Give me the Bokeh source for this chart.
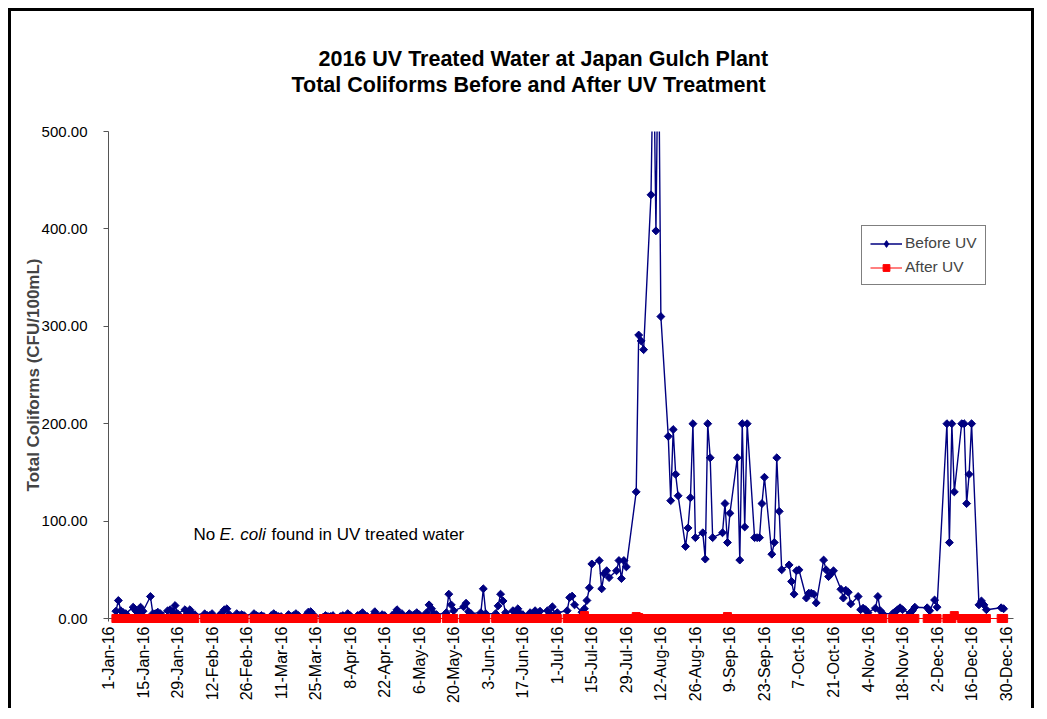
import numpy as np
import pandas as pd
from bokeh.plotting import figure
from bokeh.models import (Range1d, FixedTicker, Legend, LegendItem, Label,
                          NumeralTickFormatter, Title)
from bokeh.embed import file_html
from bokeh.resources import INLINE

FONT = "Liberation Sans"

# ---------------- data ----------------
# Monday of each sampling week (samples Mon..Fri, None = no sample)
week_starts = [
    "2016-01-04", "2016-01-11", "2016-01-18", "2016-01-25",
    "2016-02-01", "2016-02-08", "2016-02-15", "2016-02-22", "2016-02-29",
    "2016-03-07", "2016-03-14", "2016-03-21", "2016-03-28",
    "2016-04-04", "2016-04-11", "2016-04-18", "2016-04-25",
    "2016-05-02", "2016-05-09", "2016-05-16", "2016-05-23", "2016-05-30",
    "2016-06-06", "2016-06-13", "2016-06-20", "2016-06-27",
    "2016-07-04", "2016-07-11", "2016-07-18", "2016-07-25",
    "2016-08-01", "2016-08-08", "2016-08-15", "2016-08-22", "2016-08-29",
    "2016-09-05", "2016-09-12", "2016-09-19", "2016-09-26",
    "2016-10-03", "2016-10-10", "2016-10-17", "2016-10-24", "2016-10-31",
    "2016-11-07", "2016-11-14", "2016-11-21", "2016-11-28",
    "2016-12-05", "2016-12-12", "2016-12-19", "2016-12-26",
]

before_uv = [
    7.5, 18.5, 8, 6, 5,          # Jan 4
    11.6, 8, 6, 11.6, 7.5,       # Jan 11
    22.6, 5, 5, 6.5, 5,          # Jan 18
    8, 9, 7, 13.3, 5,            # Jan 25
    9, 5, 9, 5, 4,               # Feb 1
    None, 4.8, 3, 3, 5,          # Feb 8
    3, 6, 9, 10, 4,              # Feb 15
    5, 3, 4, 3, None,            # Feb 22
    5, 3, 2, 3, 2,               # Feb 29
    3, 5, 3, 2, 2,               # Mar 7
    4, 2, 3, 5, 3,               # Mar 14
    3, 6.5, 7, 4, None,          # Mar 21
    1, 3, 2, 2, 3,               # Mar 28
    2, 3, 2, 5, 3,               # Apr 4
    3, 4, 6, 3, 2,               # Apr 11
    7, 3, 2, 4, 3,               # Apr 18
    3, 5, 9, 4, 5,               # Apr 25
    5, 3, 4, 6, 4,               # May 2
    6, 14, 10, 5, 4,             # May 9
    None, 6, 25, 14, 8,          # May 16
    None, 12, 15.7, 7, 5,        # May 23
    None, 6, 30.5, 5, None,      # May 30
    5, 13, 25, 18, 6,            # Jun 6
    8, 6, 10, 5, 4,              # Jun 13
    6, 4, 8, 5, 7.5,             # Jun 20
    8, 5, 12, 4, 6,              # Jun 27
    None, 8, 21.5, 23, 14,       # Jul 4
    6.5, 10, 18.5, 31.5, 56,     # Jul 11
    59.5, 30.5, 46, 49, 42,      # Jul 18
    49, 59.5, 41, 59.5, 53,      # Jul 25
    None, 130, 291, 285, 276,    # Aug 1
    435, 600, 398, 620, 310,     # Aug 8
    187, 121, 194, 148, 126,     # Aug 15
    74, 93, 124, 200, 83,        # Aug 22
    88, 61, 200, 165, 83,        # Aug 29
    None, 88, 118, 78, 108,      # Sep 5
    165, 60, 200, 94, 200,       # Sep 12
    83, 83, 83, 118, 145,        # Sep 19
    66, 78, 165, 110, 50,        # Sep 26
    55, 38, 25, 49, 50,          # Oct 3
    21, 26, 26, 25, 16,          # Oct 10
    60, 50, 43, 46, 49,          # Oct 17
    30, 21, 29, 27, 15,          # Oct 24
    22.6, 9, 10.6, 9, 6,         # Oct 31
    10.6, 22.6, 8, 5, None,      # Nov 7
    5, 7, 9, 11, 9,              # Nov 14
    5.5, 8, 11.6, None, None,    # Nov 21
    11, 8, None, 19, 11.6,       # Nov 28
    None, 200, 78, 200, 130,     # Dec 5
    200, 200, 118, 148, 200,     # Dec 12
    14, 18, 14, 9, None,         # Dec 19
    None, None, 11, 10, None,    # Dec 26
]

after_uv = [
    0, 0, 0, 0, 0,      # Jan 4
    0, 0, 0, 0, 0,      # Jan 11
    0, 0, 0, 0, 0,      # Jan 18
    0, 0, 0, 0, 0,      # Jan 25
    0, 0, 0, 0, 0,      # Feb 1
    None, 0, 0, 0, 0,   # Feb 8
    0, 0, 0, 0, 0,      # Feb 15
    0, 0, 0, 0, None,   # Feb 22
    0, 0, 0, 0, 0,      # Feb 29
    0, 0, 0, 0, 0,      # Mar 7
    0, 0, 0, 0, 0,      # Mar 14
    0, 0, 0, 0, None,   # Mar 21
    0, 0, 0, 0, 0,      # Mar 28
    0, 0, 0, 0, 0,      # Apr 4
    0, 0, 0, 0, 0,      # Apr 11
    0, 0, 0, 0, 0,      # Apr 18
    0, 0, 0, 0, 0,      # Apr 25
    0, 0, 0, 0, 0,      # May 2
    0, 0, 0, 0, 0,      # May 9
    None, 0, 0, 0, 0,   # May 16
    None, 0, 0, 0, 0,   # May 23
    0, 0, 0, 0, None,   # May 30
    0, 0, 0, 0, 0,      # Jun 6
    0, 0, 0, 0, 0,      # Jun 13
    0, 0, 0, 0, 0,      # Jun 20
    0, 0, 0, 0, 0,      # Jun 27
    None, 0, 0, 0, 0,   # Jul 4
    0, 3, 0, 0, 0,      # Jul 11
    0, 0, 0, 0, 0,      # Jul 18
    0, 0, 0, 0, 0,      # Jul 25
    0, 2, 1, 0, 0,      # Aug 1
    0, 0, 0, 0, 0,      # Aug 8
    0, 0, 0, 0, 0,      # Aug 15
    0, 0, 0, 0, 0,      # Aug 22
    0, 0, 0, 0, 0,      # Aug 29
    0, 0, 0, 2, 0,      # Sep 5
    0, 0, 0, 0, 0,      # Sep 12
    0, 0, 0, 0, 0,      # Sep 19
    0, 0, 0, 0, 0,      # Sep 26
    0, 0, 0, 0, 0,      # Oct 3
    0, 0, 0, 0, 0,      # Oct 10
    0, 0, 0, 0, 0,      # Oct 17
    0, 0, 0, 0, 0,      # Oct 24
    0, 0, 0, 0, 0,      # Oct 31
    0, 0, 0, 0, None,   # Nov 7
    0, 0, 0, 0, 0,      # Nov 14
    0, 0, 0, None, None,  # Nov 21
    0, 0, 0, 0, 0,      # Nov 28
    None, 0, 0, 0, 3,   # Dec 5
    0, 0, 0, 0, 0,      # Dec 12
    0, 0, 0, 0, None,   # Dec 19
    None, None, 0, 0, None,  # Dec 26
]

tick_labels = [
    "1-Jan-16", "15-Jan-16", "29-Jan-16", "12-Feb-16", "26-Feb-16",
    "11-Mar-16", "25-Mar-16", "8-Apr-16", "22-Apr-16", "6-May-16",
    "20-May-16", "3-Jun-16", "17-Jun-16", "1-Jul-16", "15-Jul-16",
    "29-Jul-16", "12-Aug-16", "26-Aug-16", "9-Sep-16", "23-Sep-16",
    "7-Oct-16", "21-Oct-16", "4-Nov-16", "18-Nov-16", "2-Dec-16",
    "16-Dec-16", "30-Dec-16",
]
y_ticks = [0, 100, 200, 300, 400, 500]

ORIGIN = pd.Timestamp("2016-01-01")


def expand(weeks, vals):
    xs, ys = [], []
    for i, w in enumerate(weeks):
        base = pd.Timestamp(w)
        for k in range(5):
            v = vals[i * 5 + k]
            if v is not None:
                xs.append((base + pd.Timedelta(days=k) - ORIGIN).days)
                ys.append(v)
    return xs, ys


bx, by = expand(week_starts, before_uv)
ax, ay = expand(week_starts, after_uv)
tick_pos = [(pd.to_datetime(t, format="%d-%b-%y") - ORIGIN).days for t in tick_labels]

# ---------------- figure ----------------
p = figure(width=1026, height=700, output_backend="svg", toolbar_location=None,
           x_range=Range1d(0, 367), y_range=Range1d(0, 500),
           min_border_left=97, min_border_right=24, min_border_top=120,
           min_border_bottom=93)
p.margin = (8, 0, 0, 8)
p.styles = {"border-left": "3px solid black", "border-top": "3px solid black",
            "border-right": "3px solid black"}
p.outline_line_color = None
p.xgrid.visible = False
p.ygrid.visible = False
p.background_fill_color = "white"
p.border_fill_color = "white"

NAVY = "#000080"
RED = "#FF0000"

bl = p.line(bx, by, line_color=NAVY, line_width=1.4)
bs = p.scatter(bx, by, marker="square", angle=np.pi / 4, size=5.6,
               fill_color=NAVY, line_color=NAVY)
rl = p.line(ax, ay, line_color=RED, line_width=1.2, level="overlay")
rs = p.scatter(ax, ay, marker="square", size=8, fill_color=RED,
               line_color=RED, level="overlay")
# diamond swatch for the legend only (holds no visible point)
b_key = p.scatter([np.nan], [np.nan], marker="diamond", size=10,
                  fill_color=NAVY, line_color=NAVY)

# axes
ax_col = "#555555"
p.xaxis.ticker = FixedTicker(ticks=tick_pos)
p.xaxis.major_label_overrides = {t: l for t, l in zip(tick_pos, tick_labels)}
p.xaxis.major_label_orientation = np.pi / 2
p.xaxis.minor_tick_line_color = None
p.xaxis.major_tick_out = 3
p.xaxis.major_tick_in = 0
p.xaxis.major_label_standoff = 5
p.xaxis.axis_line_color = ax_col
p.xaxis.major_tick_line_color = ax_col
p.xaxis.major_label_text_font_size = "16px"

p.yaxis.ticker = FixedTicker(ticks=y_ticks)
p.yaxis.formatter = NumeralTickFormatter(format="0.00")
p.yaxis.minor_tick_line_color = None
p.yaxis.major_tick_out = 5
p.yaxis.major_tick_in = 0
p.yaxis.major_label_standoff = 16
p.yaxis.axis_line_color = ax_col
p.yaxis.major_tick_line_color = ax_col
p.yaxis.major_label_text_font_size = "15px"
p.yaxis.axis_label = "Total Coliforms (CFU/100mL)"
p.yaxis.axis_label_text_font = FONT
p.yaxis.axis_label_text_font_style = "bold"
p.yaxis.axis_label_text_font_size = "17px"
p.yaxis.axis_label_standoff = -4

for a in (p.xaxis, p.yaxis):
    a.major_label_text_font = FONT
    a.major_label_text_color = "black"

# legend
legend = Legend(items=[LegendItem(label="Before UV", renderers=[bl, b_key]),
                       LegendItem(label="After UV", renderers=[rl, rs])],
                location=(753, 333), orientation="vertical",
                label_text_font=FONT, label_text_font_size="15.5px",
                glyph_width=32, glyph_height=17, label_height=17,
                label_standoff=3, spacing=6, padding=8, margin=0,
                border_line_color="black", border_line_width=1,
                background_fill_color="white", background_fill_alpha=1)
p.add_layout(legend)

# blank gap between the frame and the title lines
p.add_layout(Title(text=" ", standoff=0, text_font=FONT,
                   text_font_size="30px", text_color="white"), "above")

# two title lines, each centred on its own
p.add_layout(Title(text="Total Coliforms Before and After UV Treatment",
                   align="left", offset=183, vertical_align="bottom",
                   standoff=0, text_font=FONT, text_font_style="bold",
                   text_font_size="21.5px", text_color="black"), "above")
p.add_layout(Title(text="2016 UV Treated Water at Japan Gulch Plant",
                   align="left", offset=210, vertical_align="bottom",
                   standoff=0, text_font=FONT, text_font_style="bold",
                   text_font_size="21.5px", text_color="black"), "above")

# annotation with italic species name
note_parts = [("No", "normal", 0), ("E. coli", "italic", 26),
              ("found in UV treated water", "normal", 78)]
for txt, style, off in note_parts:
    p.add_layout(Label(x=85, y=84, x_units="screen", y_units="screen",
                       x_offset=off, text=txt, text_baseline="middle",
                       text_font=FONT, text_font_style=style,
                       text_font_size="17px", text_color="black"))

open("out.html", "w").write(file_html(p, INLINE))
